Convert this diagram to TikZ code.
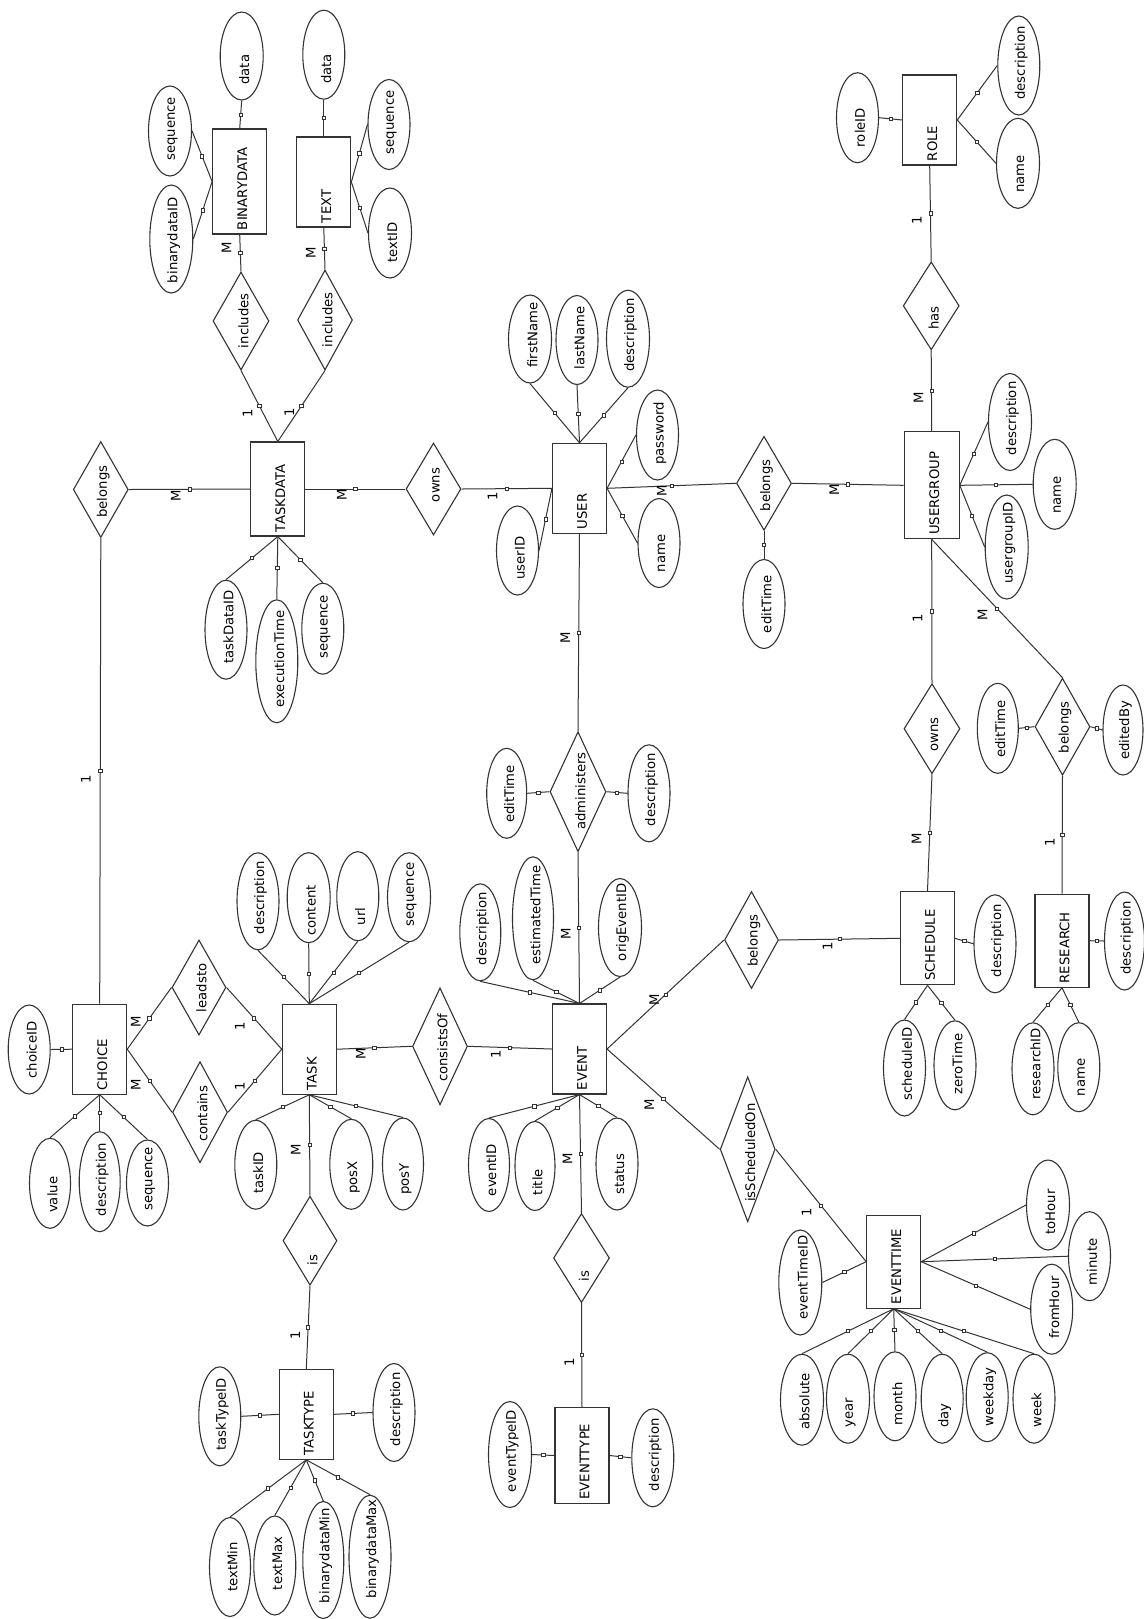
\documentclass[tikz,border=0pt]{standalone}
\usepackage{fontspec}
\setmainfont{DejaVu Sans}
\usepackage{graphicx}
\usetikzlibrary{shapes.geometric}
\newdimen\pxu \pxu=0.5pt
\newcommand\ff{\fontsize{6.6}{8}\selectfont}
\newcommand\Rt[1]{\makebox[0pt]{\hspace*{5\pxu}\smash{\raisebox{-.5\height}{\rotatebox{90}{#1}}}}}
\newcommand\Ent[5]{\node[ent, minimum width=#4*0.5pt, minimum height=#5*0.5pt] (#1) at (#2) {\Rt{\makebox[\dimexpr#5\pxu-8\pxu\relax][l]{#3}}};}
\newcommand\Rel[6]{\node[rel, minimum width=#4*0.5pt, minimum height=#5*0.5pt] (#1) at (#2) {\Rt{\makebox[\dimexpr#5\pxu-#6\pxu-#6\pxu\relax][l]{#3}}};}
\newcommand\Att[6][15.5]{\node[att, minimum width=#5*0.5pt, minimum height=#6*0.5pt] (#2) at (#3) {\Rt{\makebox[\dimexpr#6\pxu-#1\pxu-#1\pxu\relax][l]{#4}}};}
\newcommand\Card[3]{\node[card] (#1) at (#2) {\Rt{#3}};}
\newcommand\Cn[2]{\draw[con] (#1) -- node[sq]{} (#2);}
\begin{document}
\begin{tikzpicture}[x=0.5pt,y=-0.5pt, font=\ff,
 ent/.style={draw=black!80, line width=0.55pt, rectangle, inner sep=0pt},
 att/.style={draw=black!80, line width=0.55pt, ellipse, inner sep=0pt},
 rel/.style={draw=black!80, line width=0.55pt, diamond, inner sep=0pt},
 card/.style={inner sep=0pt},
 con/.style={draw=black!80, line width=0.5pt},
 sq/.style={draw=black!80, fill=white, rectangle, minimum size=1.6pt, inner sep=0pt, line width=0.35pt, pos=0.5}]
\fill[white] (0,0) rectangle (1144,1619);
\useasboundingbox (0,0) rectangle (1144,1619);
% ---------------- entities
\Ent{binarydata}{239.7,181.5}{BINARYDATA}{54}{105}
\Ent{txt}{323.8,182}{TEXT}{54}{90}
\Ent{taskdata}{277.8,489}{TASKDATA}{54}{94}
\Ent{user}{579.5,488.3}{USER}{54}{90}
\Ent{role}{929.7,120}{ROLE}{54}{90}
\Ent{usergroup}{931.7,485.3}{USERGROUP}{55}{107}
\Ent{schedule}{927.5,938.3}{SCHEDULE}{54}{93}
\Ent{research}{1062,940.7}{RESEARCH}{54}{93}
\Ent{event}{579.5,1049}{EVENT}{54}{90}
\Ent{eventtype}{582,1455.5}{EVENTTYPE}{54}{96}
\Ent{eventtime}{893.7,1261.7}{EVENTTIME}{54}{93}
\Ent{choice}{99.7,1049.2}{CHOICE}{54}{90}
\Ent{task}{309.3,1049.2}{TASK}{54}{90}
\Ent{tasktype}{306.3,1414.3}{TASKTYPE}{54}{90}
% ---------------- relationships
\Rel{incl1}{241,321}{includes}{56}{98}{22}
\Rel{incl2}{325,320}{includes}{55}{100}{23}
\Rel{belongs1}{100.8,489.5}{belongs}{55}{96}{20}
\Rel{owns1}{433.5,489}{owns}{55}{92}{33}
\Rel{belongs2}{764,483.3}{belongs}{55}{94}{19}
\Rel{has}{931.2,305.8}{has}{56}{88}{20}
\Rel{administers}{578,791.7}{administers}{56}{120}{22}
\Rel{owns2}{932,728.7}{owns}{56}{90}{22}
\Rel{belongs3}{1062.5,726.7}{belongs}{55}{97}{22}
\Rel{belongs4}{751.5,940}{belongs}{54}{97}{22}
\Rel{consistsOf}{440,1046.3}{consistsOf}{55}{117}{23}
\Rel{isSched}{747.7,1149.3}{isScheduledOn}{55}{145}{20}
\Rel{leadsto}{199,987.5}{leadsto}{54}{95}{23}
\Rel{contains}{200,1112.2}{contains}{55}{101}{21}
\Rel{is1}{310,1240.7}{is}{54}{89}{20}
\Rel{is2}{581.5,1258}{is}{56}{89}{21}
% ---------------- attributes
\Att{bdData}{241.7,56}{data}{43}{88}
\Att{bdSeq}{170,131}{sequence}{43}{90}
\Att[10]{bdId}{171.3,239}{binarydataID}{43}{108}
\Att{txData}{323.8,54.7}{data}{42}{89}
\Att{txSeq}{389,124.5}{sequence}{42}{90}
\Att{txId}{390,233}{textID}{43}{90}
\Att{tdId}{226,629.7}{taskDataID}{42}{99}
\Att{tdExec}{276.8,661.3}{executionTime}{42}{123}
\Att{tdSeq}{322.8,628.7}{sequence}{42}{91}
\Att{uId}{517.5,550.5}{userID}{42}{89}
\Att{uPass}{657.5,435}{password}{42}{90}
\Att{uName}{659,543}{name}{42}{89}
\Att{uFirst}{530,339}{firstName}{43}{88}
\Att{uLast}{577,340}{lastName}{42}{89}
\Att{uDesc}{628,338.7}{description}{43}{97}
\Att{adEdit}{506.7,793.3}{editTime}{40}{90}
\Att{adDesc}{649,793.3}{description}{42}{97}
\Att{b2Edit}{764,604}{editTime}{42}{89}
\Att{rId}{857.5,117.7}{roleID}{42}{90}
\Att{rDesc}{1018.8,65.5}{description}{42}{99}
\Att{rName}{1018,163.3}{name}{43}{90}
\Att{ugDesc}{1010,422}{description}{43}{97}
\Att{ugName}{1054.7,484.3}{name}{43}{90}
\Att{ugId}{1006.7,547}{usergroupID}{43}{104}
\Att{b3Edit}{997.8,728.3}{editTime}{41}{90}
\Att{b3By}{1123,730}{editedBy}{40}{90}
\Att{sDesc}{995,943.8}{description}{42}{98}
\Att{sId}{904.5,1068}{scheduleID}{42}{96}
\Att{sZero}{955,1065.3}{zeroTime}{42}{89}
\Att{reDesc}{1124.5,941}{description}{40}{98}
\Att{reId}{1033,1068.8}{researchID}{42}{92}
\Att{reName}{1078.8,1067.2}{name}{42}{89}
\Att{eDesc}{480.3,932.3}{description}{41}{97}
\Att{eEst}{533,918.3}{estimatedTime}{41}{123}
\Att{eOrig}{620,927.5}{origEventID}{43}{98}
\Att{eId}{489,1165}{eventID}{41}{93}
\Att{eTitle}{535,1166}{title}{40}{89}
\Att{eStatus}{617,1164}{status}{42}{92}
\Att{etId}{510,1454.5}{eventTypeID}{43}{106}
\Att{etDesc}{652.8,1457.8}{description}{42}{98}
\Att{tmId}{800.3,1282.5}{eventTimeID}{43}{105}
\Att{tmAbs}{802,1399.7}{absolute}{43}{91}
\Att{tmYear}{848,1398.7}{year}{43}{89}
\Att{tmMonth}{895,1396.3}{month}{42}{89}
\Att{tmDay}{942.2,1398.7}{day}{42}{89}
\Att{tmWeekday}{987.2,1397.2}{weekday}{42}{89}
\Att{tmWeek}{1034,1398.7}{week}{42}{89}
\Att{tmTo}{1048,1205}{toHour}{43}{90}
\Att{tmMin}{1089.5,1256.2}{minute}{42}{89}
\Att{tmFrom}{1051.7,1309.2}{fromHour}{42}{90}
\Att{cId}{29.2,1049.5}{choiceID}{42}{89}
\Att{cVal}{50,1183.3}{value}{41}{90}
\Att{cDesc}{99.7,1181.7}{description}{41}{100}
\Att{cSeq}{147.5,1183}{sequence}{42}{86}
\Att{tDesc}{258,901.3}{description}{42}{97}
\Att[7]{tCont}{308.7,897.7}{content}{43}{90}
\Att{tUrl}{357.8,896.2}{url}{42}{89}
\Att{tSeq}{409,897.2}{sequence}{43}{89}
\Att{tId}{255.8,1164.7}{taskID}{42}{89}
\Att{tPosX}{351.3,1164.3}{posX}{43}{90}
\Att{tPosY}{403,1164}{posY}{41}{92}
\Att{ttId}{219.8,1416.3}{taskTypeID}{42}{99}
\Att{ttDesc}{394,1412.5}{description}{42}{98}
\Att[25]{ttTMin}{230,1567}{textMin}{41}{99}
\Att[25]{ttTMax}{274.8,1565.5}{textMax}{42}{99}
\Att{ttBMin}{323.3,1560}{binarydataMin}{41}{117}
\Att[20]{ttBMax}{370,1556.7}{binarydataMax}{42}{123}
% ---------------- connectors
\Cn{bdData.south}{binarydata.north}
\Cn{bdSeq.east}{binarydata.west}
\Cn{bdId.east}{binarydata.west}
\Cn{binarydata.south}{incl1.north}
\Cn{incl1.south}{taskdata.north}
\Cn{txData.south}{txt.north}
\Cn{txt.east}{txSeq.west}
\Cn{txt.east}{txId.west}
\Cn{txt.south}{incl2.north}
\Cn{incl2.south}{taskdata.north}
\Cn{belongs1.east}{taskdata.west}
\Cn{belongs1.south}{choice.north}
\Cn{taskdata.east}{owns1.west}
\Cn{taskdata.south}{tdId.north}
\Cn{taskdata.south}{tdExec.north}
\Cn{taskdata.south}{tdSeq.north}
\Cn{owns1.east}{user.west}
\Cn{uId.east}{user.west}
\Cn{user.north}{uFirst.south}
\Cn{user.north}{uLast.south}
\Cn{user.north}{uDesc.south}
\Cn{user.east}{uPass.west}
\Cn{user.east}{uName.west}
\Cn{user.east}{belongs2.west}
\Cn{user.south}{administers.north}
\Cn{administers.west}{adEdit.east}
\Cn{administers.east}{adDesc.west}
\Cn{belongs2.south}{b2Edit.north}
\Cn{belongs2.east}{usergroup.west}
\Cn{usergroup.north}{has.south}
\Cn{has.north}{role.south}
\Cn{rId.east}{role.west}
\Cn{role.east}{rDesc.west}
\Cn{role.east}{rName.west}
\Cn{usergroup.east}{ugDesc.west}
\Cn{usergroup.east}{ugName.west}
\Cn{usergroup.east}{ugId.west}
\Cn{usergroup.south}{owns2.north}
\Cn{usergroup.south}{belongs3.north}
\Cn{belongs3.west}{b3Edit.east}
\Cn{belongs3.east}{b3By.west}
\Cn{owns2.south}{schedule.north}
\Cn{belongs3.south}{research.north}
\Cn{schedule.east}{sDesc.west}
\Cn{schedule.south}{sId.north}
\Cn{schedule.south}{sZero.north}
\Cn{belongs4.east}{schedule.west}
\Cn{research.east}{reDesc.west}
\Cn{research.south}{reId.north}
\Cn{research.south}{reName.north}
\Cn{consistsOf.east}{event.west}
\Cn{task.east}{consistsOf.west}
\Cn{event.north}{eDesc.south}
\Cn{event.north}{eEst.south}
\Cn{event.north}{eOrig.south}
\Cn{event.north}{administers.south}
\Cn{event.south}{eId.north}
\Cn{event.south}{eTitle.north}
\Cn{event.south}{eStatus.north}
\Cn{event.south}{is2.north}
\Cn{is2.south}{eventtype.north}
\Cn{etId.east}{eventtype.west}
\Cn{eventtype.east}{etDesc.west}
\Cn{event.east}{belongs4.west}
\Cn{event.east}{isSched.west}
\Cn{isSched.east}{eventtime.west}
\Cn{tmId.east}{eventtime.west}
\Cn{eventtime.south}{tmAbs.north}
\Cn{eventtime.south}{tmYear.north}
\Cn{eventtime.south}{tmMonth.north}
\Cn{eventtime.south}{tmDay.north}
\Cn{eventtime.south}{tmWeekday.north}
\Cn{eventtime.south}{tmWeek.north}
\Cn{eventtime.east}{tmTo.west}
\Cn{eventtime.east}{tmMin.west}
\Cn{eventtime.east}{tmFrom.west}
\Cn{cId.east}{choice.west}
\Cn{choice.south}{cVal.north}
\Cn{choice.south}{cDesc.north}
\Cn{choice.south}{cSeq.north}
\Cn{choice.east}{leadsto.west}
\Cn{choice.east}{contains.west}
\Cn{leadsto.east}{task.west}
\Cn{contains.east}{task.west}
\Cn{task.north}{tDesc.south}
\Cn{task.north}{tCont.south}
\Cn{task.north}{tUrl.south}
\Cn{task.north}{tSeq.south}
\Cn{task.south}{tId.north}
\Cn{task.south}{tPosX.north}
\Cn{task.south}{tPosY.north}
\Cn{task.south}{is1.north}
\Cn{is1.south}{tasktype.north}
\Cn{ttId.east}{tasktype.west}
\Cn{tasktype.east}{ttDesc.west}
\Cn{tasktype.south}{ttTMin.north}
\Cn{tasktype.south}{ttTMax.north}
\Cn{tasktype.south}{ttBMin.north}
\Cn{tasktype.south}{ttBMax.north}
% ---------------- cardinalities
\Card{k1}{224,248}{M}
\Card{k2}{245,413}{1}
\Card{k3}{308.3,253}{M}
\Card{k4}{286.7,412}{1}
\Card{k5}{173.3,495.7}{M}
\Card{k6}{83.3,779}{1}
\Card{k7}{339.3,495}{M}
\Card{k8}{490,496.7}{1}
\Card{k9}{659.3,490.7}{M}
\Card{k10}{562.7,637.3}{M}
\Card{k11}{831.7,489.3}{M}
\Card{k12}{916,397.3}{M}
\Card{k13}{914.3,220.7}{1}
\Card{k14}{915,618.3}{1}
\Card{k15}{980,615}{M}
\Card{k16}{914,838.3}{M}
\Card{k17}{1047.3,842.7}{1}
\Card{k18}{825,946.7}{1}
\Card{k19}{493.3,1054.3}{1}
\Card{k20}{358.3,1053.3}{M}
\Card{k21}{563.3,934}{M}
\Card{k22}{565,1158.3}{M}
\Card{k23}{566.7,1362.7}{1}
\Card{k24}{651.7,1000}{M}
\Card{k25}{646.7,1105}{M}
\Card{k26}{804,1212.7}{1}
\Card{k27}{133.3,1021.7}{M}
\Card{k28}{133.3,1085}{M}
\Card{k29}{237.3,1026}{1}
\Card{k30}{237.3,1086.7}{1}
\Card{k31}{293.3,1150}{M}
\Card{k32}{292.7,1335}{1}
\end{tikzpicture}
\end{document}
